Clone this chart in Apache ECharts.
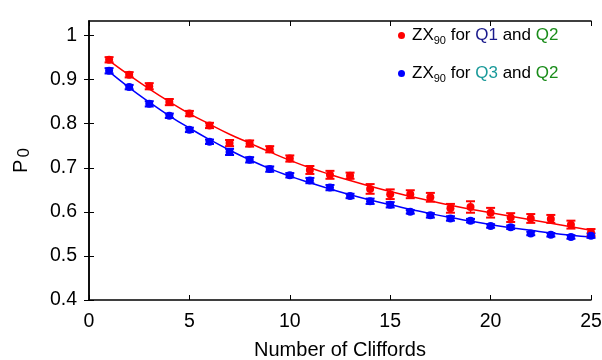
<!DOCTYPE html>
<html><head><meta charset="utf-8">
<script src="https://cdn.jsdelivr.net/npm/echarts@6/dist/echarts.min.js"></script>
<style>html,body{margin:0;padding:0;background:#fff}#c{width:602px;height:360px}</style>
</head><body><div id="c"></div>
<script>
const cliffords = [1,2,3,4,5,6,7,8,9,10,11,12,13,14,15,16,17,18,19,20,21,22,23,24,25];
const q1Mean = [0.945,0.911,0.885,0.849,0.823,0.796,0.756,0.755,0.742,0.721,0.695,0.684,0.682,0.652,0.640,0.640,0.633,0.608,0.611,0.598,0.587,0.585,0.584,0.571,0.553];
const q1Err  = [0.006,0.006,0.007,0.007,0.006,0.006,0.007,0.007,0.007,0.007,0.009,0.009,0.007,0.011,0.011,0.009,0.010,0.010,0.013,0.011,0.010,0.010,0.009,0.009,0.008];
const q1Fit  = [0.943,0.910,0.879,0.850,0.823,0.799,0.776,0.756,0.736,0.717,0.700,0.685,0.671,0.658,0.646,0.635,0.625,0.615,0.606,0.598,0.590,0.582,0.574,0.566,0.558];
const q3Mean = [0.920,0.883,0.845,0.818,0.786,0.759,0.736,0.718,0.697,0.683,0.671,0.655,0.636,0.624,0.616,0.600,0.592,0.585,0.580,0.568,0.565,0.551,0.548,0.543,0.546];
const q3Err  = [0.006,0.005,0.006,0.005,0.005,0.005,0.007,0.006,0.006,0.005,0.006,0.006,0.005,0.006,0.006,0.004,0.005,0.005,0.004,0.004,0.004,0.004,0.004,0.004,0.005];
const q3Fit  = [0.918,0.882,0.849,0.818,0.790,0.764,0.740,0.718,0.698,0.681,0.666,0.652,0.639,0.627,0.616,0.606,0.596,0.587,0.579,0.571,0.564,0.558,0.552,0.547,0.543];
const xTicks = [0,5,10,15,20,25];
const yTicks = [0.4,0.5,0.6,0.7,0.8,0.9,1];

const RED = '#ff0000', BLUE = '#0000ff';
const FONT = 'Liberation Sans, Arial, sans-serif';

function errSeries(name, mean, err, color) {
  return {
    type: 'custom', name: name, xAxisIndex: 0, yAxisIndex: 0, z: 3,
    data: cliffords.map((c, i) => [c, mean[i] - err[i], mean[i] + err[i]]),
    renderItem: function (params, api) {
      const lo = api.coord([api.value(0), api.value(1)]);
      const hi = api.coord([api.value(0), api.value(2)]);
      const hw = 4.5;
      const st = { stroke: color, lineWidth: 1.5 };
      const cap = { stroke: color, lineWidth: 2 };
      return { type: 'group', children: [
        { type: 'line', shape: { x1: lo[0], y1: lo[1], x2: hi[0], y2: hi[1] }, style: st },
        { type: 'line', shape: { x1: lo[0]-hw, y1: lo[1], x2: lo[0]+hw, y2: lo[1] }, style: cap },
        { type: 'line', shape: { x1: hi[0]-hw, y1: hi[1], x2: hi[0]+hw, y2: hi[1] }, style: cap }
      ]};
    },
    silent: true
  };
}

const chart = echarts.init(document.getElementById('c'), null, { renderer: 'canvas' });
const axisLine = { show: true, lineStyle: { color: '#000', width: 1.5 } };
const tickIn = { show: true, inside: true, length: 5, lineStyle: { color: '#000', width: 1 } };
chart.setOption({
  animation: false,
  backgroundColor: '#fff',
  grid: { left: 89, right: 11, top: 21, bottom: 60, containLabel: false, outerBoundsMode: 'none' },
  legend: {
    orient: 'vertical', left: 393, top: 22, itemGap: 19,
    icon: 'circle', itemWidth: 7, itemHeight: 7,
    data: ['Q1', 'Q3'],
    formatter: function (n) {
      return n === 'Q1'
        ? '{t|ZX}{s|90}{t| for }{b|Q1}{t| and }{g|Q2}'
        : '{t|ZX}{s|90}{t| for }{c|Q3}{t| and }{g|Q2}';
    },
    textStyle: {
      fontFamily: FONT, fontSize: 17, padding: [0,0,0,2],
      rich: {
        t: { fontFamily: FONT, fontSize: 17, color: '#000' },
        s: { fontFamily: FONT, fontSize: 11, color: '#000', padding: [10,0,0,0] },
        b: { fontFamily: FONT, fontSize: 17, color: '#1a1a8c' },
        c: { fontFamily: FONT, fontSize: 17, color: '#1a9a9a' },
        g: { fontFamily: FONT, fontSize: 17, color: '#1a8c1a' }
      }
    }
  },
  xAxis: [{
    type: 'value', min: 0, max: 25, interval: 5, position: 'bottom',
    name: 'Number of Cliffords', nameLocation: 'middle', nameGap: 40,
    nameTextStyle: { fontFamily: FONT, fontSize: 20, color: '#000' },
    axisLine: axisLine, axisTick: tickIn, splitLine: { show: false },
    axisLabel: { fontFamily: FONT, fontSize: 19.5, color: '#000', margin: 12,
      customValues: xTicks }
  }, {
    type: 'value', min: 0, max: 25, interval: 5, position: 'top',
    axisLine: axisLine, axisTick: tickIn, axisLabel: { show: false }, splitLine: { show: false }
  }],
  yAxis: [{
    type: 'value', min: 0.4, max: 1.033, interval: 0.1, position: 'left',
    name: '{p|P}{z|0}', nameLocation: 'middle', nameGap: 56, nameRotate: 90,
    nameTextStyle: { rich: {
      p: { fontFamily: FONT, fontSize: 20, color: '#000' },
      z: { fontFamily: FONT, fontSize: 17, color: '#000', padding: [7,0,0,2] } } },
    axisLine: axisLine, splitLine: { show: false },
    axisTick: Object.assign({}, tickIn, { customValues: yTicks }),
    axisLabel: { fontFamily: FONT, fontSize: 19.5, color: '#000', margin: 12,
      customValues: yTicks, formatter: v => String(Math.round(v * 10) / 10) }
  }, {
    type: 'value', min: 0.4, max: 1.033, interval: 0.1, position: 'right',
    axisLine: axisLine, splitLine: { show: false },
    axisTick: Object.assign({}, tickIn, { customValues: yTicks }),
    axisLabel: { show: false }
  }],
  series: [
    { type: 'line', name: 'Q1fit', data: cliffords.map((c, i) => [c, q1Fit[i]]), smooth: true,
      showSymbol: false, symbol: 'none', lineStyle: { color: RED, width: 1.5 }, z: 2, silent: true },
    { type: 'line', name: 'Q3fit', data: cliffords.map((c, i) => [c, q3Fit[i]]), smooth: true,
      showSymbol: false, symbol: 'none', lineStyle: { color: BLUE, width: 1.5 }, z: 2, silent: true },
    errSeries('Q1err', q1Mean, q1Err, RED),
    errSeries('Q3err', q3Mean, q3Err, BLUE),
    { type: 'scatter', name: 'Q1', data: cliffords.map((c, i) => [c, q1Mean[i]]),
      symbol: 'circle', symbolSize: 8, itemStyle: { color: RED, opacity: 1 }, z: 4 },
    { type: 'scatter', name: 'Q3', data: cliffords.map((c, i) => [c, q3Mean[i]]),
      symbol: 'circle', symbolSize: 8, itemStyle: { color: BLUE, opacity: 1 }, z: 4 }
  ]
});
</script></body></html>
